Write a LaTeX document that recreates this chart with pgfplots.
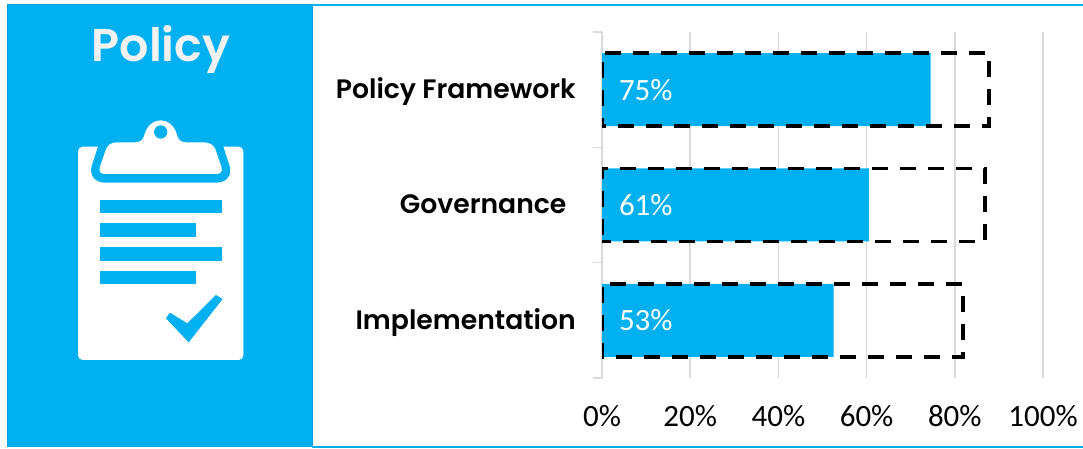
\documentclass[border=0pt]{standalone}
\usepackage{pgfplots}
\pgfplotsset{compat=1.18}
\usepackage{pgfplotstable}
\usepackage{fontspec}
\setmainfont{Carlito}
\newfontfamily\geo{Poppins SemiBold}
\definecolor{pblue}{HTML}{00B0F0}
\definecolor{pedge}{HTML}{00A3DE}
\definecolor{ptitle}{HTML}{F2F2F2}
\definecolor{gridg}{HTML}{D9D9D9}
\pgfplotstableread{
y actual
2 74.5
1 60.5
0 52.5
}\policydata
\pgfplotstableread{
y target
2 87.8
}\targetA
\pgfplotstableread{
y target
1 86.8
}\targetB
\pgfplotstableread{
y target
0 81.8
}\targetC
\begin{document}
\begin{tikzpicture}[x=1pt,y=1pt]
\useasboundingbox (0,0) rectangle (812.25,336.75);
% frame lines
\draw[pblue,line width=1.2pt] (234,333) -- (812.25,333);
\draw[pblue,line width=1.5pt] (234,1.75) -- (812.25,1.75);
% panel
\fill[pblue] (5.5,1.75) rectangle (234.6,333.5);
\draw[pedge,line width=.8pt] (5.5,1.75) rectangle (234.6,333.5);
\node[anchor=base,text=ptitle,inner sep=0,font=\fontsize{34.5}{34.5}\geo] at (120.7,290.25) {Policy};
% icon, drawn on the 3x zoom grid
\begin{scope}[x=0.25pt,y=-0.25pt,yshift=336.75pt]
\fill[white,rounded corners=3.5pt] (234,440) rectangle (730,1080);
\fill[pblue] (294,430) -- (294,440) -- (276,495) .. controls (266,525) and (285,548) .. (315,548) -- (650,548) .. controls (680,548) and (698,525) .. (688,495) -- (670,440) -- (670,430) -- cycle;
\fill[white] (350,427) -- (405,427) .. controls (422,427) and (430,418) .. (433,405) .. controls (440,378) and (460,361) .. (482,361) .. controls (504,361) and (524,378) .. (531,405) .. controls (534,418) and (542,427) .. (558,427) -- (612,427) .. controls (630,427) and (642,436) .. (647,450) -- (664,500) .. controls (669,514) and (662,522) .. (650,522) -- (314,522) .. controls (302,522) and (295,514) .. (300,500) -- (317,450) .. controls (322,436) and (334,427) .. (350,427) -- cycle;
\fill[pblue] (482,396) circle[radius=5pt];
\fill[pblue] (300,600) rectangle (665,640);
\fill[pblue] (300,670) rectangle (587,711);
\fill[pblue] (300,742) rectangle (665,782);
\fill[pblue] (300,813) rectangle (587,853);
\fill[pblue] (498,955) -- (510,938) -- (562,970) -- (648,885) -- (668,897) -- (566,1027) -- cycle;
\end{scope}
\begin{axis}[
  at={(451.5pt,53.25pt)},anchor=south west,
  scale only axis,width=330.75pt,height=259.5pt,
  xmin=0,xmax=100,ymin=-0.5,ymax=2.5,
  axis lines=left,
  axis line style={-},
  x axis line style={draw=none},
  y axis line style={draw=gridg,line width=1.1pt},
  xmajorgrids,
  grid style={gridg,line width=1.1pt},
  xtick={0,20,40,60,80,100},
  xticklabels={0\%,20\%,40\%,60\%,80\%,100\%},
  major tick length=0pt,
  x tick label style={font=\fontsize{23.25}{23.25}\selectfont,inner sep=0,anchor=base,yshift=-36.75pt},
  ytick={0,1,2},
  yticklabels={Implementation,Governance\vphantom{Ply}\hspace*{7pt},Policy Framework},
  y tick label style={font=\fontsize{20}{20}\geo,anchor=east,inner sep=0,xshift=-19.5pt,yshift=-1.5pt},
  extra y ticks={-0.5,0.5,1.5,2.5},
  extra y tick labels={},
  extra y tick style={tick style={draw=gridg,line width=1.1pt},major tick length=6.75pt,tick align=outside},
]
\addplot[xbar,bar shift=0pt,bar width=54.75pt,fill=pblue,draw=none] table[x=actual,y=y] {\policydata};
\addplot[xbar,bar shift=0pt,bar width=54.75pt,fill=none,draw=black,line width=2.7pt,dash pattern=on 12pt off 9pt,dash phase=9pt] table[x=target,y=y] {\targetA};
\addplot[xbar,bar shift=0pt,bar width=54.75pt,fill=none,draw=black,line width=2.7pt,dash pattern=on 12pt off 9pt,dash phase=5.5pt] table[x=target,y=y] {\targetB};
\addplot[xbar,bar shift=0pt,bar width=54.75pt,fill=none,draw=black,line width=2.7pt,dash pattern=on 12pt off 9pt,dash phase=10.5pt] table[x=target,y=y] {\targetC};
\addplot[draw=none,mark=none,nodes near coords,point meta=explicit symbolic,
  every node near coord/.append style={anchor=west,inner sep=0,text=white,font=\fontsize{23.25}{23.25}\selectfont}]
  coordinates {(3.8,2)[75\%] (3.8,1)[61\%] (3.8,0)[53\%]};
\end{axis}
\end{tikzpicture}
\end{document}
